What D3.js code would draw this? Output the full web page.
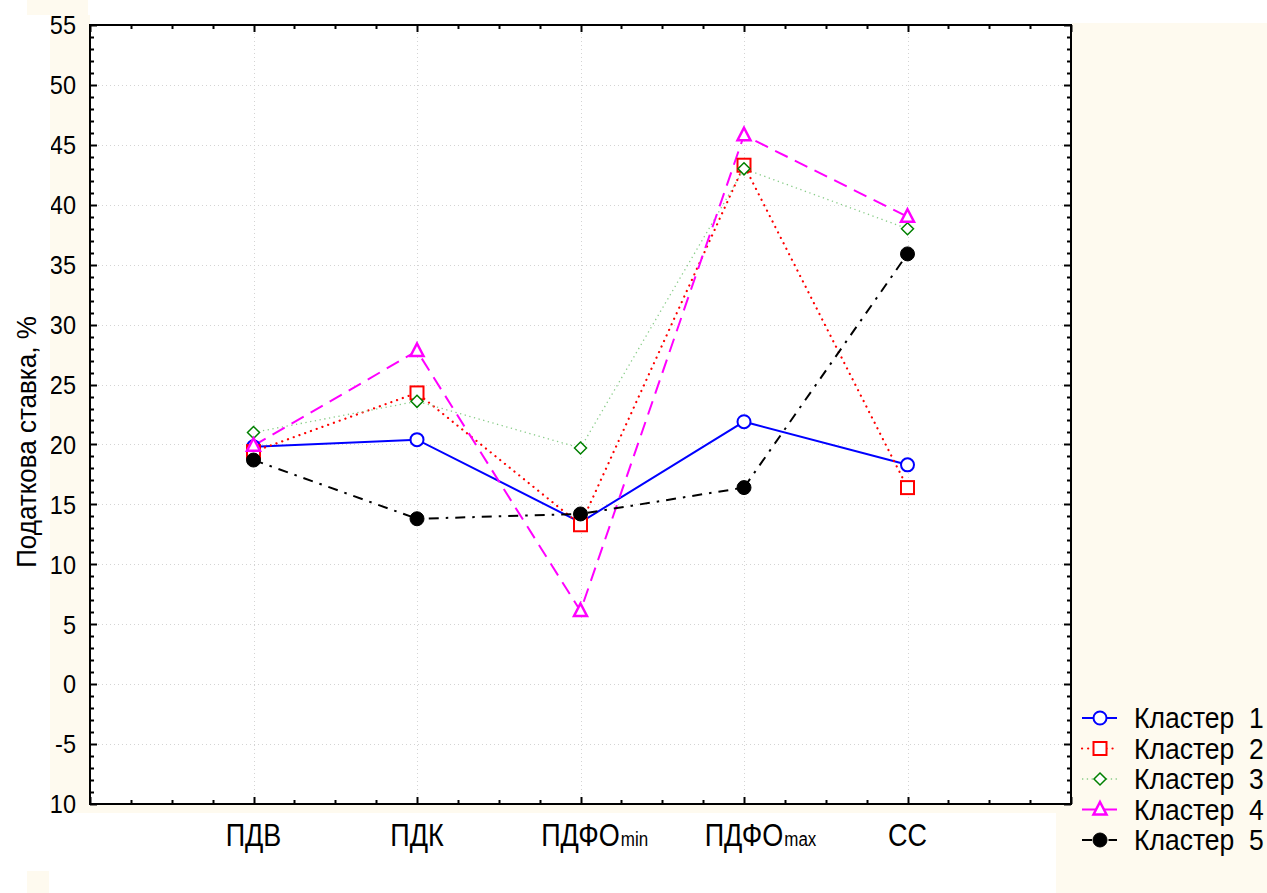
<!DOCTYPE html>
<html>
<head>
<meta charset="utf-8">
<script src="https://cdn.jsdelivr.net/npm/d3@7"></script>
<style>
  html, body { margin: 0; padding: 0; background: #ffffff; }
  svg { display: block; }
  text { font-family: "Liberation Sans", Arial, sans-serif; fill: #000; }
</style>
</head>
<body>
<svg id="chart" width="1267" height="893"></svg>
<script>
// Tax rate by instrument for five clusters
const categories = ["ПДВ", "ПДК", "ПДФОmin", "ПДФОmax", "СС"];
const categoryLabels = [
  { main: "ПДВ", sub: "" },
  { main: "ПДК", sub: "" },
  { main: "ПДФО", sub: "min" },
  { main: "ПДФО", sub: "max" },
  { main: "СС", sub: "" }
];
const cluster1 = [19.8, 20.4, 13.5, 21.9, 18.3];
const cluster2 = [19.4, 24.3, 13.3, 43.3, 16.4];
const cluster3 = [21.0, 23.6, 19.7, 43.0, 38.0];
const cluster4 = [19.9, 27.8, 6.1, 45.8, 39.0];
const cluster5 = [18.7, 13.8, 14.2, 16.4, 35.9];
const seriesNames = ["Кластер  1", "Кластер  2", "Кластер  3", "Кластер  4", "Кластер  5"];
const yTicks = [55, 50, 45, 40, 35, 30, 25, 20, 15, 10, 5, 0, -5, -10];

const series = [
  { name: seriesNames[0], values: cluster1, color: "#0000ff", lineColor: "#0000ff", width: 2, dash: null, marker: "circle" },
  { name: seriesNames[1], values: cluster2, color: "#ff0000", lineColor: "#ff0000", width: 2.2, dash: "0.1,6", cap: "round", marker: "square" },
  { name: seriesNames[2], values: cluster3, color: "#008000", lineColor: "#88cc88", width: 1.3, dash: "1.3,3.5", marker: "diamond" },
  { name: seriesNames[3], values: cluster4, color: "#ff00ff", lineColor: "#ff00ff", width: 2, dash: "14,8", marker: "triangle" },
  { name: seriesNames[4], values: cluster5, color: "#000000", lineColor: "#000000", width: 2, dash: "10,7,2.5,7", marker: "dot" }
];

const W = 1267, H = 893;
const plot = { left: 90, right: 1071, top: 25, bottom: 804 };
const cream = "#fefaef";

const svg = d3.select("#chart");

// Background panels
const panels = [
  [27, 0, 61, 15],
  [50, 15, 40, 798],
  [50, 804, 1022, 9],
  [1072, 23, 195, 870],
  [1056, 813, 211, 80],
  [27, 871, 22, 22]
];
svg.append("g").selectAll("rect").data(panels).join("rect")
  .attr("x", d => d[0]).attr("y", d => d[1])
  .attr("width", d => d[2]).attr("height", d => d[3])
  .attr("fill", cream);

svg.append("rect")
  .attr("x", plot.left).attr("y", plot.top)
  .attr("width", plot.right - plot.left).attr("height", plot.bottom - plot.top)
  .attr("fill", "#ffffff");

const x = d3.scaleLinear().domain([0, 6]).range([plot.left, plot.right]);
const y = d3.scaleLinear().domain([-10, 55]).range([plot.bottom, plot.top]);

// Grid
const grid = svg.append("g").attr("stroke", "#d4d4d4").attr("stroke-width", 1).attr("stroke-dasharray", "1,3");
grid.selectAll("line.h").data(yTicks.filter(v => v > -10 && v < 55)).join("line")
  .attr("x1", plot.left).attr("x2", plot.right)
  .attr("y1", d => Math.round(y(d)) + 0.5).attr("y2", d => Math.round(y(d)) + 0.5);
grid.selectAll("line.v").data(d3.range(1, 6)).join("line")
  .attr("y1", plot.top).attr("y2", plot.bottom)
  .attr("x1", d => Math.round(x(d)) + 0.5).attr("x2", d => Math.round(x(d)) + 0.5);

// Axes with inward ticks on all four sides
const yMinor = d3.range(-10, 56, 1);
const xMinor = d3.range(0, 6.01, 0.25);
const axisG = svg.append("g");
function ticksY(xPos, dir) {
  axisG.append("g").selectAll("line").data(yMinor).join("line")
    .attr("x1", xPos).attr("x2", d => xPos + dir * (d % 5 === 0 ? 7 : 4))
    .attr("y1", d => Math.round(y(d)) + 0.5).attr("y2", d => Math.round(y(d)) + 0.5)
    .attr("stroke", "#000").attr("stroke-width", 2);
}
function ticksX(yPos, dir) {
  axisG.append("g").selectAll("line").data(xMinor).join("line")
    .attr("y1", yPos).attr("y2", d => yPos + dir * (Number.isInteger(d) ? 7 : 4))
    .attr("x1", d => Math.round(x(d)) + 0.5).attr("x2", d => Math.round(x(d)) + 0.5)
    .attr("stroke", "#000").attr("stroke-width", 2);
}
ticksY(plot.left, 1);
ticksY(plot.right, -1);
ticksX(plot.top, 1);
ticksX(plot.bottom, -1);
axisG.append("rect")
  .attr("x", plot.left).attr("y", plot.top)
  .attr("width", plot.right - plot.left).attr("height", plot.bottom - plot.top)
  .attr("fill", "none").attr("stroke", "#000").attr("stroke-width", 2);

// Y tick labels, clipped to the left panel
svg.append("clipPath").attr("id", "yclip")
  .append("rect").attr("x", 51).attr("y", 0).attr("width", 40).attr("height", 813);
svg.append("g").attr("clip-path", "url(#yclip)")
  .selectAll("text").data(yTicks).join("text")
  .attr("transform", d => `translate(76,${y(d)}) scale(1,1.1)`)
  .attr("dy", "0.36em")
  .attr("text-anchor", "end").attr("font-size", 23.5)
  .text(d => d);

// Y title
svg.append("text")
  .attr("transform", `translate(36,442) rotate(-90) scale(1,1.08)`)
  .attr("text-anchor", "middle").attr("font-size", 26)
  .text("Податкова ставка, %");

// X labels: main text centred on the category, subscript trailing
const xl = svg.append("g").selectAll("g").data(categoryLabels).join("g")
  .attr("transform", (d, i) => `translate(${x(i + 1)},846) scale(1,1.15)`);
xl.append("text")
  .attr("text-anchor", "middle").attr("font-size", 27)
  .text(d => d.main);
xl.filter(d => d.sub).append("text")
  .attr("x", function () {
    const w = this.parentNode.querySelector("text").getComputedTextLength();
    return w / 2 + 1;
  })
  .attr("font-size", 17)
  .text(d => d.sub);

// Markers
function drawMarker(g, type, color, cx, cy) {
  if (type === "circle") {
    g.append("circle").attr("cx", cx).attr("cy", cy).attr("r", 6.5)
      .attr("fill", "#fff").attr("stroke", color).attr("stroke-width", 2);
  } else if (type === "square") {
    g.append("rect").attr("x", cx - 6.5).attr("y", cy - 6.5).attr("width", 13).attr("height", 13)
      .attr("fill", "#fff").attr("stroke", color).attr("stroke-width", 2);
  } else if (type === "diamond") {
    g.append("path").attr("d", `M${cx},${cy - 6}L${cx + 6},${cy}L${cx},${cy + 6}L${cx - 6},${cy}Z`)
      .attr("fill", "#fff").attr("stroke", color).attr("stroke-width", 1.5);
  } else if (type === "triangle") {
    g.append("path").attr("d", `M${cx},${cy - 7.5}L${cx + 6.5},${cy + 5}L${cx - 6.5},${cy + 5}Z`)
      .attr("fill", "#fff").attr("stroke", color).attr("stroke-width", 2.5);
  } else if (type === "dot") {
    g.append("circle").attr("cx", cx).attr("cy", cy).attr("r", 7)
      .attr("fill", color).attr("stroke", color).attr("stroke-width", 1);
  }
}

const line = d3.line().x((d, i) => x(i + 1)).y(d => y(d));
const dataG = svg.append("g");
series.forEach(s => {
  dataG.append("path").datum(s.values).attr("d", line)
    .attr("fill", "none").attr("stroke", s.lineColor).attr("stroke-width", s.width)
    .attr("stroke-dasharray", s.dash).attr("stroke-linecap", s.cap || "butt");
});
series.forEach(s => {
  const g = dataG.append("g");
  s.values.forEach((v, i) => drawMarker(g, s.marker, s.color, x(i + 1), y(v)));
});

// Legend
const lg = svg.append("g");
series.forEach((s, i) => {
  const ly = 718 + i * 30.5;
  lg.append("line").attr("x1", 1082).attr("x2", 1117).attr("y1", ly).attr("y2", ly)
    .attr("stroke", s.lineColor).attr("stroke-width", s.width)
    .attr("stroke-dasharray", s.dash).attr("stroke-linecap", s.cap || "butt");
  drawMarker(lg, s.marker, s.color, 1100, ly);
  lg.append("text")
    .attr("transform", `translate(1134,${ly}) scale(1,1.08)`)
    .attr("dy", "0.36em")
    .attr("font-size", 26.5).attr("xml:space", "preserve")
    .text(s.name);
});
</script>
</body>
</html>
